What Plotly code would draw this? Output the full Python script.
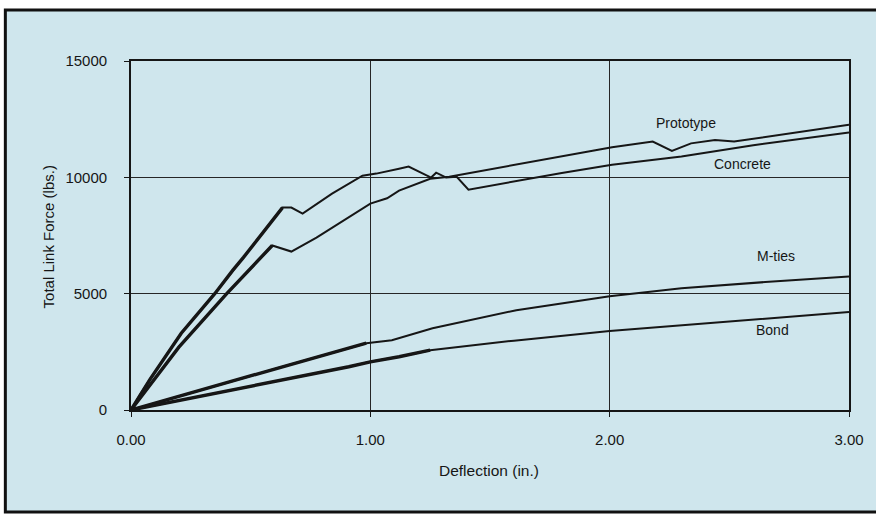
import plotly.graph_objects as go

# ---- data ----
concrete_x = [0, 0.04, 0.08, 0.21, 0.35, 0.425, 0.47, 0.633, 0.67, 0.717, 0.84, 0.967, 1.025, 1.12,
              1.16, 1.254, 1.275, 1.317, 1.36, 1.41, 1.6, 1.8, 2.01, 2.3, 2.6, 3.0]
concrete_y = [0, 700, 1330, 3300, 5000, 6000, 6560, 8700, 8700, 8440, 9300, 10070, 10160, 10370,
              10460, 9990, 10200, 9990, 10030, 9470, 9830, 10190, 10540, 10900, 11380, 11930]

prototype_x = [0, 0.08, 0.2, 0.4, 0.59, 0.67, 0.775, 1.0, 1.07, 1.12, 1.25, 1.33, 1.6, 1.8, 2.01,
               2.18, 2.26, 2.34, 2.44, 2.52, 2.7, 3.0]
prototype_y = [0, 1100, 2700, 5000, 7070, 6810, 7410, 8870, 9100, 9430, 9940, 10030, 10530, 10870,
               11290, 11540, 11140, 11460, 11600, 11540, 11800, 12260]

mties_x = [0, 0.29, 0.6, 0.983, 1.09, 1.26, 1.61, 2.0, 2.3, 2.65, 3.0]
mties_y = [0, 860, 1760, 2870, 3000, 3510, 4290, 4890, 5230, 5500, 5740]

bond_x = [0, 0.5, 0.91, 1.0, 1.12, 1.25, 1.6, 2.0, 2.5, 3.0]
bond_y = [0, 1010, 1860, 2070, 2290, 2570, 2980, 3400, 3820, 4210]

# number of leading points drawn as a heavier (initial stiffness) stroke
concrete_thick_n = 8
prototype_thick_n = 5
mties_thick_n = 4
bond_thick_n = 6

x_ticks = [0, 1, 2, 3]
x_tick_text = ["0.00", "1.00", "2.00", "3.00"]
y_ticks = [0, 5000, 10000, 15000]
y_tick_text = ["0", "5000", "10000", "15000"]

labels = ["Prototype", "Concrete", "M-ties", "Bond"]
label_x = [2.32, 2.555, 2.695, 2.68]
label_y = [12340, 10590, 6640, 3430]

# ---- style ----
BG = "#cfe6ed"
INK = "#161616"
FONT = "Liberation Sans, Arial, Helvetica, sans-serif"

fig = go.Figure()

series = [
    (concrete_x, concrete_y, concrete_thick_n),
    (prototype_x, prototype_y, prototype_thick_n),
    (mties_x, mties_y, mties_thick_n),
    (bond_x, bond_y, bond_thick_n),
]
for xs, ys, n in series:
    fig.add_trace(go.Scatter(x=xs, y=ys, mode="lines",
                             line=dict(color=INK, width=2), showlegend=False,
                             hoverinfo="skip"))
    fig.add_trace(go.Scatter(x=xs[:n], y=ys[:n], mode="lines",
                             line=dict(color=INK, width=3.4), showlegend=False,
                             hoverinfo="skip"))

for t, lx, ly in zip(labels, label_x, label_y):
    fig.add_annotation(x=lx, y=ly, text=t, showarrow=False,
                       font=dict(family=FONT, size=14, color=INK))

# axis titles
fig.add_annotation(xref="paper", yref="paper", x=0.4986, y=-0.172,
                   xanchor="center", yanchor="middle",
                   text="Deflection (in.)", showarrow=False,
                   font=dict(family=FONT, size=15.5, color=INK))
fig.add_annotation(xref="paper", yref="paper", x=-0.1153, y=0.495,
                   xanchor="center", yanchor="middle",
                   text="Total Link Force (lbs.)", showarrow=False, textangle=-90,
                   font=dict(family=FONT, size=15, color=INK))

# outer frame / light-blue card
fig.add_shape(type="rect", xref="paper", yref="paper",
              x0=-0.175, x1=1.04, y0=-0.292, y1=1.146,
              line=dict(color="#111111", width=3), fillcolor=BG, layer="below")

fig.update_xaxes(range=[0, 3], tickvals=x_ticks, ticktext=x_tick_text,
                 showgrid=True, gridcolor="#262626", gridwidth=1.3,
                 showline=True, mirror=True, linecolor=INK, linewidth=1.8,
                 ticks="outside", ticklen=5, tickcolor=INK, ticklabelstandoff=10,
                 zeroline=False,
                 tickfont=dict(family=FONT, size=15, color=INK))
fig.update_yaxes(range=[0, 15000], tickvals=y_ticks, ticktext=y_tick_text,
                 showgrid=True, gridcolor="#262626", gridwidth=1.3,
                 showline=True, mirror=True, linecolor=INK, linewidth=1.8,
                 ticks="outside", ticklen=5, tickcolor=INK, ticklabelstandoff=14,
                 zeroline=False,
                 tickfont=dict(family=FONT, size=15, color=INK))

fig.update_layout(width=876, height=518,
                  margin=dict(l=131, r=25, t=61, b=108),
                  paper_bgcolor="white", plot_bgcolor=BG,
                  showlegend=False)

fig.write_html("out.html")
